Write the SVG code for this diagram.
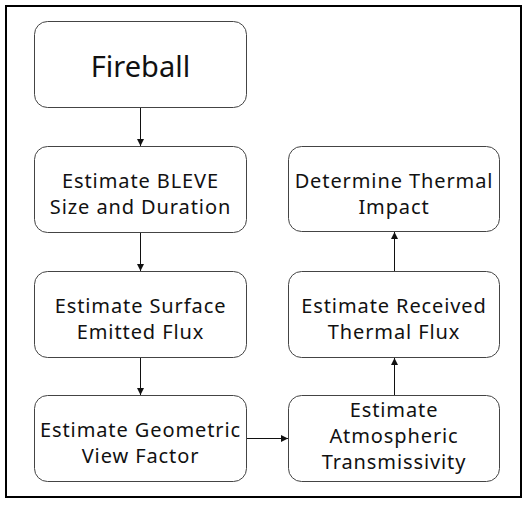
<svg xmlns="http://www.w3.org/2000/svg" width="527" height="510" viewBox="0 0 527 510">
  <style>
    .box { fill: #ffffff; stroke: #444444; stroke-width: 1; }
    .lbl { font-family: "Noto Sans", "Open Sans", sans-serif; font-size: 20px; letter-spacing: 0.9px; fill: #111111; text-anchor: middle; }
    .big { font-size: 29px; letter-spacing: 0; }
    .edge { stroke: #111111; stroke-width: 1; fill: none; marker-end: url(#arrow); }
  </style>
  <defs>
    <marker id="arrow" viewBox="0 0 10 10" refX="10" refY="5" markerWidth="7" markerHeight="7" markerUnits="userSpaceOnUse" orient="auto">
      <path d="M0,0 L10,5 L0,10 Z" fill="#111111"/>
    </marker>
  </defs>

  <rect x="0" y="0" width="527" height="510" fill="#ffffff"/>
  <!-- outer frame -->
  <rect x="6" y="6" width="515" height="491" fill="none" stroke="#000000" stroke-width="2"/>

  <g id="fireball">
    <rect class="box" x="34.5" y="21.5" width="212" height="86" rx="13"/>
    <text class="lbl big" x="140.5" y="77">Fireball</text>
  </g>
  <g id="bleve">
    <rect class="box" x="34.5" y="146.5" width="212" height="86" rx="13"/>
    <text class="lbl" x="140.5" y="188">Estimate BLEVE</text>
    <text class="lbl" x="140.5" y="214">Size and Duration</text>
  </g>
  <g id="surface">
    <rect class="box" x="34.5" y="271.5" width="212" height="86" rx="13"/>
    <text class="lbl" x="140.5" y="313">Estimate Surface</text>
    <text class="lbl" x="140.5" y="339">Emitted Flux</text>
  </g>
  <g id="geometric">
    <rect class="box" x="34.5" y="395.5" width="212" height="86" rx="13"/>
    <text class="lbl" x="140.5" y="437">Estimate Geometric</text>
    <text class="lbl" x="140.5" y="463">View Factor</text>
  </g>
  <g id="impact">
    <rect class="box" x="288.5" y="146.5" width="211" height="85" rx="13"/>
    <text class="lbl" x="394" y="188">Determine Thermal</text>
    <text class="lbl" x="394" y="214">Impact</text>
  </g>
  <g id="received">
    <rect class="box" x="288.5" y="271.5" width="211" height="86" rx="13"/>
    <text class="lbl" x="394" y="313">Estimate Received</text>
    <text class="lbl" x="394" y="339">Thermal Flux</text>
  </g>
  <g id="transmissivity">
    <rect class="box" x="288.5" y="395.5" width="211" height="86" rx="13"/>
    <text class="lbl" x="394" y="417">Estimate</text>
    <text class="lbl" x="394" y="443">Atmospheric</text>
    <text class="lbl" x="394" y="469">Transmissivity</text>
  </g>

  <g id="connectors">
    <line class="edge" x1="140.5" y1="108" x2="140.5" y2="146"/>
    <line class="edge" x1="140.5" y1="233" x2="140.5" y2="271"/>
    <line class="edge" x1="140.5" y1="358" x2="140.5" y2="395"/>
    <line class="edge" x1="247" y1="438.5" x2="288" y2="438.5"/>
    <line class="edge" x1="394.5" y1="395" x2="394.5" y2="358"/>
    <line class="edge" x1="394.5" y1="271" x2="394.5" y2="232"/>
  </g>
</svg>
